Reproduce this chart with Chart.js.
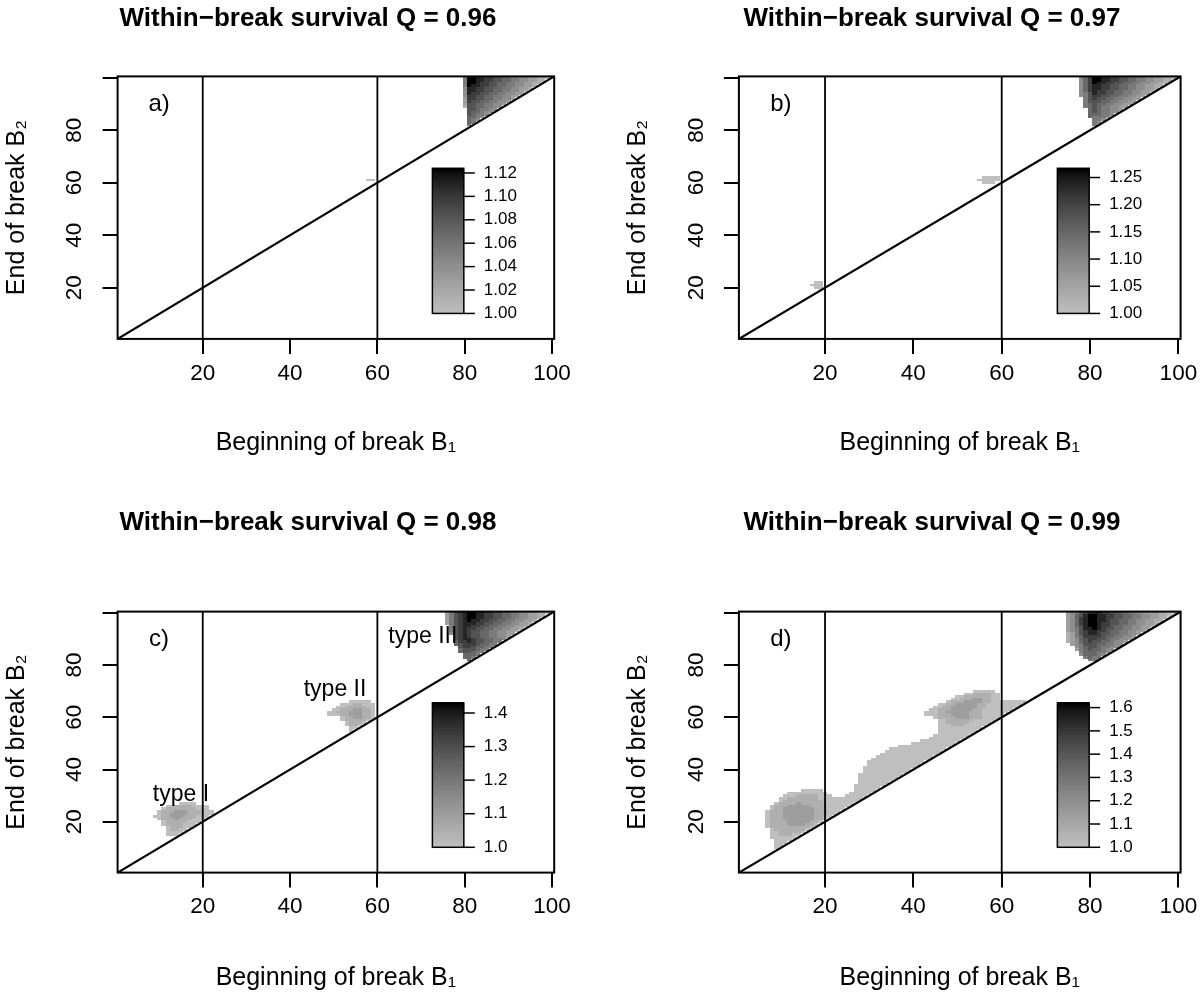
<!DOCTYPE html>
<html>
<head>
<meta charset="utf-8">
<script src="https://cdn.jsdelivr.net/npm/chart.js@4.4.0/dist/chart.umd.min.js"></script>
<style>
  html, body { margin: 0; padding: 0; background: #fff; }
  #wrap { position: relative; width: 1200px; height: 997px; }
  canvas { position: absolute; display: block; }
</style>
</head>
<body>
<div id="wrap">
  <canvas id="chart-a" width="600" height="498" style="left:0;top:0"></canvas>
  <canvas id="chart-b" width="600" height="498" style="left:600px;top:0"></canvas>
  <canvas id="chart-c" width="600" height="499" style="left:0;top:498px"></canvas>
  <canvas id="chart-d" width="600" height="499" style="left:600px;top:498px"></canvas>
</div>
<script>
Chart.defaults.font.family = '"Liberation Sans", Arial, sans-serif';
Chart.defaults.color = '#000';

// ---- data ----
var qValues = [0.96, 0.97, 0.98, 0.99];
var panelTags = ['a)', 'b)', 'c)', 'd)'];
var xTicks = [20, 40, 60, 80, 100];
var yTicks = [20, 40, 60, 80, 100];
var yTickLabels = ['20', '40', '60', '80', ''];
var refLines = [20, 60];
var diagLine = [0.5, 100.5];
var zMax = [1.124, 1.267, 1.43, 1.62];
var barLabelsA = ['1.00', '1.02', '1.04', '1.06', '1.08', '1.10', '1.12'];
var barLabelsB = ['1.00', '1.05', '1.10', '1.15', '1.20', '1.25'];
var barLabelsC = ['1.0', '1.1', '1.2', '1.3', '1.4'];
var barLabelsD = ['1.0', '1.1', '1.2', '1.3', '1.4', '1.5', '1.6'];
var typeLabels = ['type I', 'type II', 'type III'];
var typeLabelX = [15, 50.3, 70.4];
var typeLabelY = [30.5, 70.5, 91];

// cells: [B2, first B1, levels 0-9 of the colour bar, '.' = empty]
var cellsA = [
  [100, 80, '49988776655443322110'],
  [99, 80, '4998877665544332211'],
  [98, 80, '499877665544332211'],
  [97, 80, '49887766554433221'],
  [96, 80, '3887766554433221'],
  [95, 80, '388776655443321'],
  [94, 80, '38776655443322'],
  [93, 80, '3776655443322'],
  [92, 80, '277665544332'],
  [91, 80, '27665544332'],
  [90, 80, '2665544332'],
  [89, 80, '166554433'],
  [88, 80, '.6654433'],
  [87, 80, '.655433'],
  [86, 80, '.65443'],
  [85, 80, '.5543'],
  [84, 80, '.543'],
  [83, 80, '.54'],
  [82, 80, '.4'],
  [61, 58, '00']
];

var cellsB = [
  [100, 78, '3579988776655443322110'],
  [99, 78, '357998877665544332211'],
  [98, 78, '35798877665544332211'],
  [97, 78, '3578877665544332211'],
  [96, 78, '357887766554433221'],
  [95, 78, '35787766554433221'],
  [94, 78, '3468776655443322'],
  [93, 78, '346776655443322'],
  [92, 78, '.4676655443322'],
  [91, 78, '.466655443322'],
  [90, 78, '.45655443322'],
  [89, 78, '.4565443322'],
  [88, 78, '..56544332'],
  [87, 78, '..5654433'],
  [86, 78, '..555443'],
  [85, 78, '..54443'],
  [84, 78, '...443'],
  [83, 78, '...43'],
  [82, 78, '...4'],
  [62, 56, '0000'],
  [61, 55, '00000'],
  [60, 56, '000'],
  [22, 18, '00'],
  [21, 17, '000'],
  [20, 18, '00']
];

var cellsC = [
  [100, 76, '246789988776655443322110'],
  [99, 76, '24678998877665544332211'],
  [98, 76, '2467899887766554433221'],
  [97, 76, '246789887766554433221'],
  [96, 76, '24678887766554433221'],
  [95, 76, '.467887766554433221'],
  [94, 76, '.46787766554433221'],
  [93, 76, '.4678766554433221'],
  [92, 76, '.367876655443322'],
  [91, 76, '..6787665544332'],
  [90, 76, '..678876655443'],
  [89, 76, '..57787665544'],
  [88, 76, '..5677765544'],
  [87, 76, '...67765544'],
  [86, 76, '...5666544'],
  [85, 76, '...566544'],
  [84, 76, '....5554'],
  [83, 76, '....554'],
  [82, 76, '.....5'],
  [66, 54, '00000'],
  [65, 52, '00011000'],
  [64, 51, '001111100'],
  [63, 50, '0011122110'],
  [62, 49, '00111222110'],
  [61, 49, '00011222110'],
  [60, 52, '01122110'],
  [59, 52, '0111110'],
  [58, 53, '01110'],
  [57, 53, '0110'],
  [56, 54, '00'],
  [55, 54, '0'],
  [27, 15, '0000'],
  [26, 12, '0011110000'],
  [25, 11, '01111111000'],
  [24, 10, '0111222111000'],
  [23, 10, '0112222111000'],
  [22, 9, '0011222111000'],
  [21, 10, '01112111000'],
  [20, 11, '011111000'],
  [19, 11, '01111000'],
  [18, 12, '011100'],
  [17, 12, '01100'],
  [16, 12, '0000'],
  [15, 12, '000']
];

var cellsD = [
  [100, 75, '2346788877665544332221100'],
  [99, 75, '235689988776655443322110'],
  [98, 75, '23578998877665544332211'],
  [97, 75, '2357899887665544332211'],
  [96, 75, '235789987766554433221'],
  [95, 75, '23568998776554433221'],
  [94, 75, '2346889876655443322'],
  [93, 75, '234678877655443322'],
  [92, 75, '12467887665544332'],
  [91, 75, '1245777765544332'],
  [90, 75, '123567766544332'],
  [89, 75, '12356766554332'],
  [88, 75, '.234666554433'],
  [87, 75, '..3456654433'],
  [86, 75, '..245655433'],
  [85, 75, '...4555443'],
  [84, 75, '...355543'],
  [83, 75, '....4544'],
  [82, 75, '.....44'],
  [70, 54, '00000'],
  [69, 52, '00111100'],
  [68, 50, '0011111100'],
  [67, 49, '00111221100'],
  [66, 48, '011122221100000000'],
  [65, 46, '0011222221100000000'],
  [64, 45, '0011222222110000000'],
  [63, 44, '0011122222110000000'],
  [62, 43, '0001122222111000000'],
  [61, 43, '000111222211100000'],
  [60, 45, '011112221110000'],
  [59, 46, '0011111100000'],
  [58, 46, '001111100000'],
  [57, 46, '00011100000'],
  [56, 46, '0000000000'],
  [55, 46, '000000000'],
  [54, 46, '00000000'],
  [53, 45, '00000000'],
  [52, 44, '00000000'],
  [51, 42, '000000000'],
  [50, 40, '0000000000'],
  [49, 37, '000000000000'],
  [48, 35, '0000000000000'],
  [47, 34, '0000000000000'],
  [46, 33, '0000000000000'],
  [45, 32, '0000000000000'],
  [44, 31, '0000000000000'],
  [43, 30, '0000000000000'],
  [42, 30, '000000000000'],
  [41, 29, '000000000000'],
  [40, 29, '00000000000'],
  [39, 29, '0000000000'],
  [38, 28, '0000000000'],
  [37, 28, '000000000'],
  [36, 28, '00000000'],
  [35, 28, '0000000'],
  [34, 27, '0000000'],
  [33, 27, '000000'],
  [32, 15, '00000.......00000'],
  [31, 12, '000000000.....00000'],
  [30, 11, '00011111000...00000'],
  [29, 10, '0011111110000000000'],
  [28, 10, '011111111100000000'],
  [27, 9, '011112111110000000'],
  [26, 8, '011122222111100000'],
  [25, 8, '01122222221110000'],
  [24, 7, '01112222222111000'],
  [23, 7, '0111222222211100'],
  [22, 7, '011122222221100'],
  [21, 7, '01112222222110'],
  [20, 7, '0111122222110'],
  [19, 7, '011112222110'],
  [18, 7, '01111111110'],
  [17, 8, '011111110'],
  [16, 8, '00111110'],
  [15, 8, '0011100'],
  [14, 8, '000000'],
  [13, 9, '0000'],
  [12, 9, '000'],
  [11, 9, '00'],
  [10, 9, '0']
];

// ---- layout ----
var FONT = '"Liberation Sans", Arial, sans-serif';
var barBox = [72.6, 79.8, 10.2, 65.5];   // colour bar in data units: x0, x1, y0, y1
var layouts = [
  { id: 'chart-a', pad: { left: 0, right: 45.8, top: 76.4, bottom: 0 }, xh: 159.1, xtp: 40.1, tx: 308, ty: 19 },
  { id: 'chart-b', pad: { left: 21.3, right: 19.4, top: 76.4, bottom: 0 }, xh: 159.1, xtp: 40.1, tx: 332, ty: 19 },
  { id: 'chart-c', pad: { left: 0, right: 45.8, top: 113.6, bottom: 0 }, xh: 124.4, xtp: 4.1, tx: 308, ty: 25 },
  { id: 'chart-d', pad: { left: 21.3, right: 19.4, top: 113.6, bottom: 0 }, xh: 124.4, xtp: 4.1, tx: 332, ty: 25 }
];

function shade(t) {
  t = Math.min(Math.max(t, 0), 1);
  var g = Math.round(191 * Math.pow(1 - t, 0.75));
  return 'rgb(' + g + ',' + g + ',' + g + ')';
}

function heatPlugin(i, cells, barLabels, lay) {
  var zm = zMax[i];
  return {
    id: 'heat' + i,
    beforeDatasetsDraw: function (chart) {
      var ctx = chart.ctx, xs = chart.scales.x, ys = chart.scales.y;
      ctx.save();
      cells.forEach(function (row) {
        var b2 = row[0], b1 = row[1], s = row[2];
        var y0 = Math.round(ys.getPixelForValue(b2 + 0.5));
        var y1 = Math.round(ys.getPixelForValue(b2 - 0.5));
        for (var k = 0; k < s.length; k++) {
          if (s[k] === '.') continue;
          var v = 1 + (zm - 1) * Number(s[k]) / 9;
          var x0 = Math.round(xs.getPixelForValue(b1 + k - 0.5));
          var x1 = Math.round(xs.getPixelForValue(b1 + k + 0.5));
          ctx.fillStyle = shade((v - 1) / (zm - 1));
          ctx.fillRect(x0, y0, x1 - x0, y1 - y0);
        }
      });
      ctx.restore();
    },
    afterDatasetsDraw: function (chart) {
      var ctx = chart.ctx, xs = chart.scales.x, ys = chart.scales.y, a = chart.chartArea;
      ctx.save();
      // colour bar
      var bx0 = xs.getPixelForValue(barBox[0]), bx1 = xs.getPixelForValue(barBox[1]);
      var by0 = ys.getPixelForValue(barBox[2]), by1 = ys.getPixelForValue(barBox[3]);
      var n = 64;
      for (var k = 0; k < n; k++) {
        var ya = by0 + (by1 - by0) * k / n, yb = by0 + (by1 - by0) * (k + 1) / n;
        ctx.fillStyle = shade((k + 0.5) / n);
        ctx.fillRect(bx0, Math.floor(yb), bx1 - bx0, Math.ceil(ya) - Math.floor(yb));
      }
      ctx.strokeStyle = '#000';
      ctx.lineWidth = 1.5;
      ctx.strokeRect(bx0, by1, bx1 - bx0, by0 - by1);
      ctx.font = '17px ' + FONT;
      ctx.fillStyle = '#000';
      ctx.textAlign = 'left';
      ctx.textBaseline = 'middle';
      barLabels.forEach(function (lab) {
        var v = parseFloat(lab);
        var py = by0 + (by1 - by0) * (v - 1) / (zm - 1);
        ctx.beginPath();
        ctx.moveTo(bx1, py);
        ctx.lineTo(bx1 + 11, py);
        ctx.stroke();
        ctx.fillText(lab, bx1 + 20, py);
      });
      // panel tag and region labels
      ctx.textAlign = 'center';
      ctx.font = '24px ' + FONT;
      ctx.fillText(panelTags[i], xs.getPixelForValue(10), ys.getPixelForValue(90));
      if (i === 2) {
        ctx.font = '23px ' + FONT;
        typeLabels.forEach(function (t, j) {
          ctx.fillText(t, xs.getPixelForValue(typeLabelX[j]), ys.getPixelForValue(typeLabelY[j]));
        });
      }
      // box
      ctx.lineWidth = 2;
      ctx.strokeRect(a.left, a.top, a.right - a.left, a.bottom - a.top);
      // main title
      ctx.font = 'bold 26px ' + FONT;
      ctx.fillText('Within\u2212break survival Q = ' + qValues[i].toFixed(2), lay.tx, lay.ty);
      ctx.restore();
    }
  };
}

function lineSet(pts, w) {
  return { data: pts, showLine: true, borderColor: '#000', borderWidth: w, pointRadius: 0, fill: false };
}

function makePanel(i, cells, barLabels) {
  var lay = layouts[i];
  var ctx = document.getElementById(lay.id).getContext('2d');
  var sets = [lineSet([{ x: diagLine[0], y: diagLine[0] }, { x: diagLine[1], y: diagLine[1] }], 2.2)];
  refLines.forEach(function (v) {
    sets.push(lineSet([{ x: v, y: diagLine[0] }, { x: v, y: diagLine[1] }], 1.8));
  });
  return new Chart(ctx, {
    type: 'scatter',
    data: { datasets: sets },
    options: {
      responsive: false,
      animation: false,
      events: [],
      layout: { padding: lay.pad },
      plugins: { legend: { display: false }, tooltip: { enabled: false } },
      scales: {
        x: {
          type: 'linear', min: diagLine[0], max: diagLine[1],
          afterBuildTicks: function (s) { s.ticks = xTicks.map(function (v) { return { value: v }; }); },
          afterFit: function (s) { s.height = lay.xh; s.paddingLeft = 0; s.paddingRight = 0; },
          grid: { drawOnChartArea: false, color: '#000', lineWidth: 2, tickLength: 15 },
          border: { display: false },
          ticks: { font: { size: 22.5 }, padding: 6, maxRotation: 0, autoSkip: false,
                   callback: function (v) { return String(v); } },
          title: { display: true, text: 'Beginning of break B\u2081', font: { size: 25 },
                   padding: { top: 0, bottom: lay.xtp } }
        },
        y: {
          type: 'linear', min: diagLine[0], max: diagLine[1],
          afterBuildTicks: function (s) { s.ticks = yTicks.map(function (v) { return { value: v }; }); },
          afterFit: function (s) { s.width = 117.6; s.paddingTop = 0; s.paddingBottom = 0; },
          grid: { drawOnChartArea: false, color: '#000', lineWidth: 2, tickLength: 15 },
          border: { display: false },
          ticks: { font: { size: 22.5 }, padding: 15, minRotation: 90, maxRotation: 90, crossAlign: 'center',
                   autoSkip: false, callback: function (v, k) { return yTickLabels[k]; } },
          title: { display: true, text: 'End of break B\u2082', font: { size: 25 },
                   padding: { top: 2, bottom: 0 } }
        }
      }
    },
    plugins: [heatPlugin(i, cells, barLabels, lay)]
  });
}

makePanel(0, cellsA, barLabelsA);
makePanel(1, cellsB, barLabelsB);
makePanel(2, cellsC, barLabelsC);
makePanel(3, cellsD, barLabelsD);
</script>
</body>
</html>
